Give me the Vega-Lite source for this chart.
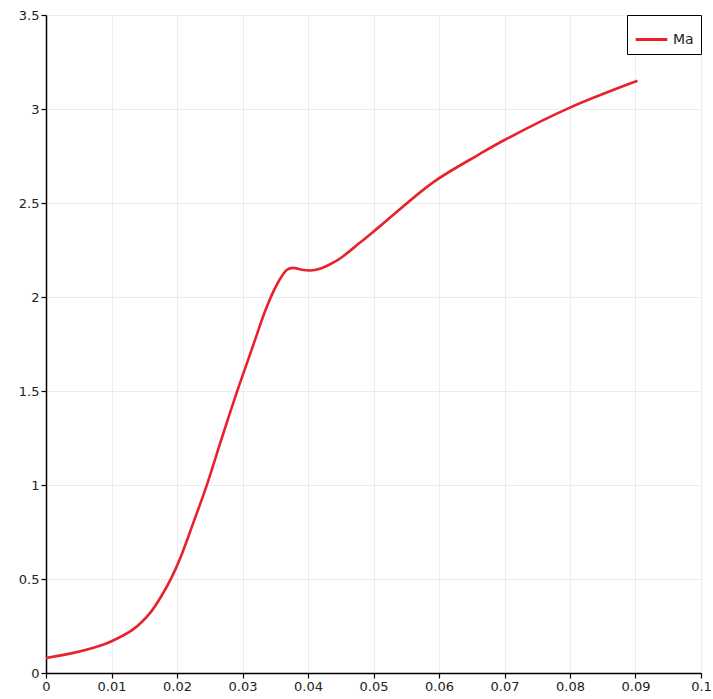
{
  "$schema": "https://vega.github.io/schema/vega-lite/v6.json",
  "width": 655,
  "height": 658,
  "autosize": "none",
  "padding": {"left": 46, "top": 15, "right": 12, "bottom": 26},
  "background": "white",
  "config": {
    "view": {"stroke": null},
    "axis": {
      "labelFont": "DejaVu Sans",
      "labelFontSize": 13,
      "labelColor": "#222222",
      "labelFlush": false,
      "format": "~g",
      "domainColor": "#000000",
      "domainWidth": 1.5,
      "tickColor": "#000000",
      "tickWidth": 1.2,
      "tickSize": 5,
      "gridColor": "#ececec",
      "gridWidth": 1,
      "title": null
    },
    "legend": {
      "labelFont": "DejaVu Sans",
      "labelFontSize": 14,
      "labelColor": "#222222"
    }
  },
  "data": {
    "values": [
      {"x": 0, "y": 0.08, "s": "Ma"},
      {"x": 0.0042, "y": 0.107, "s": "Ma"},
      {"x": 0.0075, "y": 0.137, "s": "Ma"},
      {"x": 0.01, "y": 0.169, "s": "Ma"},
      {"x": 0.0133, "y": 0.232, "s": "Ma"},
      {"x": 0.0159, "y": 0.32, "s": "Ma"},
      {"x": 0.0178, "y": 0.42, "s": "Ma"},
      {"x": 0.0192, "y": 0.51, "s": "Ma"},
      {"x": 0.0206, "y": 0.62, "s": "Ma"},
      {"x": 0.0225, "y": 0.8, "s": "Ma"},
      {"x": 0.0245, "y": 0.994, "s": "Ma"},
      {"x": 0.0268, "y": 1.245, "s": "Ma"},
      {"x": 0.0291, "y": 1.49, "s": "Ma"},
      {"x": 0.0316, "y": 1.74, "s": "Ma"},
      {"x": 0.0334, "y": 1.92, "s": "Ma"},
      {"x": 0.0348, "y": 2.035, "s": "Ma"},
      {"x": 0.0359, "y": 2.105, "s": "Ma"},
      {"x": 0.0368, "y": 2.145, "s": "Ma"},
      {"x": 0.0377, "y": 2.155, "s": "Ma"},
      {"x": 0.039, "y": 2.145, "s": "Ma"},
      {"x": 0.0403, "y": 2.141, "s": "Ma"},
      {"x": 0.0418, "y": 2.15, "s": "Ma"},
      {"x": 0.0433, "y": 2.173, "s": "Ma"},
      {"x": 0.0449, "y": 2.205, "s": "Ma"},
      {"x": 0.0479, "y": 2.288, "s": "Ma"},
      {"x": 0.051, "y": 2.377, "s": "Ma"},
      {"x": 0.0591, "y": 2.61, "s": "Ma"},
      {"x": 0.0662, "y": 2.76, "s": "Ma"},
      {"x": 0.07, "y": 2.835, "s": "Ma"},
      {"x": 0.0799, "y": 3.006, "s": "Ma"},
      {"x": 0.0903, "y": 3.15, "s": "Ma"}
    ]
  },
  "mark": {"type": "line", "strokeWidth": 2.6, "interpolate": "catmull-rom", "clip": true},
  "encoding": {
    "x": {
      "field": "x",
      "type": "quantitative",
      "scale": {"domain": [0, 0.1], "nice": false, "zero": false},
      "axis": {"values": [0, 0.01, 0.02, 0.03, 0.04, 0.05, 0.06, 0.07, 0.08, 0.09, 0.1], "labelPadding": 2}
    },
    "y": {
      "field": "y",
      "type": "quantitative",
      "scale": {"domain": [0, 3.5], "nice": false},
      "axis": {"values": [0, 0.5, 1, 1.5, 2, 2.5, 3, 3.5], "labelPadding": 2}
    },
    "color": {
      "field": "s",
      "type": "nominal",
      "scale": {"range": ["#e8222a"]},
      "legend": {
        "title": null,
        "orient": "top-right",
        "offset": 0,
        "symbolType": "stroke",
        "symbolStrokeWidth": 3,
        "symbolSize": 1000,
        "strokeColor": "#000000",
        "fillColor": "white",
        "padding": 7,
        "labelOffset": 4
      }
    }
  }
}
